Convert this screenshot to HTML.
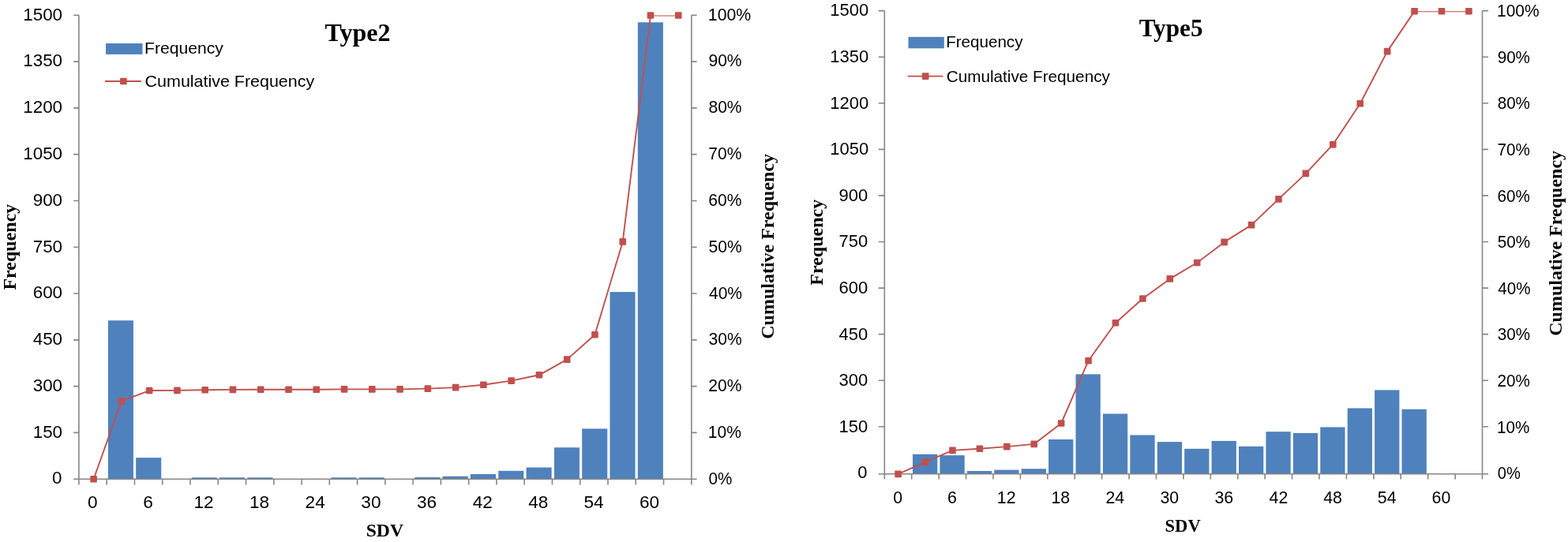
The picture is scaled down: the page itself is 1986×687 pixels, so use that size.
<!DOCTYPE html>
<html><head><meta charset="utf-8"><title>Type2 / Type5 SDV histograms</title>
<style>html,body{margin:0;padding:0;background:#fff;}body{width:1986px;height:687px;overflow:hidden;}svg{display:block;}</style>
</head><body>
<svg width="1986" height="687" viewBox="0 0 1986 687">
<rect width="1986" height="687" fill="#fff"/>
<clipPath id="clipL"><rect x="99.9" y="19.5" width="775.9" height="597.7"/></clipPath>
<rect x="136.87" y="406.22" width="32.06" height="200.98" fill="#4F81BD"/>
<rect x="172.18" y="580.16" width="32.06" height="27.04" fill="#4F81BD"/>
<rect x="242.81" y="605.24" width="32.06" height="1.96" fill="#4F81BD"/>
<rect x="278.12" y="605.24" width="32.06" height="1.96" fill="#4F81BD"/>
<rect x="313.43" y="605.24" width="32.06" height="1.96" fill="#4F81BD"/>
<rect x="419.37" y="605.24" width="32.06" height="1.96" fill="#4F81BD"/>
<rect x="454.69" y="605.24" width="32.06" height="1.96" fill="#4F81BD"/>
<rect x="525.31" y="604.89" width="32.06" height="2.31" fill="#4F81BD"/>
<rect x="560.63" y="603.71" width="32.06" height="3.49" fill="#4F81BD"/>
<rect x="595.94" y="601.01" width="32.06" height="6.19" fill="#4F81BD"/>
<rect x="631.25" y="596.81" width="32.06" height="10.39" fill="#4F81BD"/>
<rect x="666.56" y="592.5" width="32.06" height="14.7" fill="#4F81BD"/>
<rect x="701.88" y="567.22" width="32.06" height="39.98" fill="#4F81BD"/>
<rect x="737.19" y="543.39" width="32.06" height="63.81" fill="#4F81BD"/>
<rect x="772.5" y="370.08" width="32.06" height="237.12" fill="#4F81BD"/>
<rect x="807.82" y="28.31" width="32.06" height="578.89" fill="#4F81BD"/>
<path d="M99.9 19.3V614.5M93.1 19.3H99.9M93.1 78.09H99.9M93.1 136.88H99.9M93.1 195.67H99.9M93.1 254.46H99.9M93.1 313.25H99.9M93.1 372.04H99.9M93.1 430.83H99.9M93.1 489.62H99.9M93.1 548.41H99.9M93.1 607.2H99.9M875.8 19.3V614.5M875.8 19.3H882.6M875.8 78.09H882.6M875.8 136.88H882.6M875.8 195.67H882.6M875.8 254.46H882.6M875.8 313.25H882.6M875.8 372.04H882.6M875.8 430.83H882.6M875.8 489.62H882.6M875.8 548.41H882.6M875.8 607.2H882.6M93.1 607.2H882.6M135.17 607.2V614.5M170.44 607.2V614.5M205.7 607.2V614.5M240.97 607.2V614.5M276.24 607.2V614.5M311.51 607.2V614.5M346.78 607.2V614.5M382.05 607.2V614.5M417.31 607.2V614.5M452.58 607.2V614.5M487.85 607.2V614.5M523.12 607.2V614.5M558.39 607.2V614.5M593.65 607.2V614.5M628.92 607.2V614.5M664.19 607.2V614.5M699.46 607.2V614.5M734.73 607.2V614.5M770 607.2V614.5M805.26 607.2V614.5M840.53 607.2V614.5" stroke="#868686" stroke-width="1.6" fill="none"/>
<polyline clip-path="url(#clipL)" points="118.6,607.3 153.87,508.35 189.14,495.05 224.41,494.9 259.68,494.2 294.95,493.9 330.22,493.7 365.49,493.7 400.76,493.7 436.03,493.4 471.3,493.4 506.57,493.4 541.84,492.6 577.11,491.1 612.38,487.8 647.65,482.6 682.92,475.3 718.19,455.6 753.46,424.3 788.73,306.4 824,19.5 859.27,19.5" fill="none" stroke="#C0504D" stroke-width="1.9" stroke-linejoin="round"/>
<rect x="114.3" y="603" width="8.6" height="8.6" rx="1" fill="#C0504D"/>
<rect x="149.57" y="504.05" width="8.6" height="8.6" rx="1" fill="#C0504D"/>
<rect x="184.84" y="490.75" width="8.6" height="8.6" rx="1" fill="#C0504D"/>
<rect x="220.11" y="490.6" width="8.6" height="8.6" rx="1" fill="#C0504D"/>
<rect x="255.38" y="489.9" width="8.6" height="8.6" rx="1" fill="#C0504D"/>
<rect x="290.65" y="489.6" width="8.6" height="8.6" rx="1" fill="#C0504D"/>
<rect x="325.92" y="489.4" width="8.6" height="8.6" rx="1" fill="#C0504D"/>
<rect x="361.19" y="489.4" width="8.6" height="8.6" rx="1" fill="#C0504D"/>
<rect x="396.46" y="489.4" width="8.6" height="8.6" rx="1" fill="#C0504D"/>
<rect x="431.73" y="489.1" width="8.6" height="8.6" rx="1" fill="#C0504D"/>
<rect x="467" y="489.1" width="8.6" height="8.6" rx="1" fill="#C0504D"/>
<rect x="502.27" y="489.1" width="8.6" height="8.6" rx="1" fill="#C0504D"/>
<rect x="537.54" y="488.3" width="8.6" height="8.6" rx="1" fill="#C0504D"/>
<rect x="572.81" y="486.8" width="8.6" height="8.6" rx="1" fill="#C0504D"/>
<rect x="608.08" y="483.5" width="8.6" height="8.6" rx="1" fill="#C0504D"/>
<rect x="643.35" y="478.3" width="8.6" height="8.6" rx="1" fill="#C0504D"/>
<rect x="678.62" y="471" width="8.6" height="8.6" rx="1" fill="#C0504D"/>
<rect x="713.89" y="451.3" width="8.6" height="8.6" rx="1" fill="#C0504D"/>
<rect x="749.16" y="420" width="8.6" height="8.6" rx="1" fill="#C0504D"/>
<rect x="784.43" y="302.1" width="8.6" height="8.6" rx="1" fill="#C0504D"/>
<rect x="819.7" y="15.2" width="8.6" height="8.6" rx="1" fill="#C0504D"/>
<rect x="854.97" y="15.2" width="8.6" height="8.6" rx="1" fill="#C0504D"/>
<text x="29.33" y="25.7" font-size="21.5" textLength="49.74" lengthAdjust="spacingAndGlyphs" font-family='"Liberation Sans", Arial, sans-serif'>1500</text>
<text x="29.33" y="84.47" font-size="21.5" textLength="49.74" lengthAdjust="spacingAndGlyphs" font-family='"Liberation Sans", Arial, sans-serif'>1350</text>
<text x="29.33" y="143.24" font-size="21.5" textLength="49.74" lengthAdjust="spacingAndGlyphs" font-family='"Liberation Sans", Arial, sans-serif'>1200</text>
<text x="29.33" y="202.01" font-size="21.5" textLength="49.74" lengthAdjust="spacingAndGlyphs" font-family='"Liberation Sans", Arial, sans-serif'>1050</text>
<text x="41.75" y="260.78" font-size="21.5" textLength="37.31" lengthAdjust="spacingAndGlyphs" font-family='"Liberation Sans", Arial, sans-serif'>900</text>
<text x="41.75" y="319.55" font-size="21.5" textLength="37.31" lengthAdjust="spacingAndGlyphs" font-family='"Liberation Sans", Arial, sans-serif'>750</text>
<text x="41.75" y="378.32" font-size="21.5" textLength="37.31" lengthAdjust="spacingAndGlyphs" font-family='"Liberation Sans", Arial, sans-serif'>600</text>
<text x="41.75" y="437.09" font-size="21.5" textLength="37.31" lengthAdjust="spacingAndGlyphs" font-family='"Liberation Sans", Arial, sans-serif'>450</text>
<text x="41.75" y="495.86" font-size="21.5" textLength="37.31" lengthAdjust="spacingAndGlyphs" font-family='"Liberation Sans", Arial, sans-serif'>300</text>
<text x="41.75" y="554.63" font-size="21.5" textLength="37.31" lengthAdjust="spacingAndGlyphs" font-family='"Liberation Sans", Arial, sans-serif'>150</text>
<text x="66.07" y="613.4" font-size="21.5" textLength="12.44" lengthAdjust="spacingAndGlyphs" font-family='"Liberation Sans", Arial, sans-serif'>0</text>
<text x="896.8" y="25.65" font-size="21.5" textLength="54.44" lengthAdjust="spacingAndGlyphs" font-family='"Liberation Sans", Arial, sans-serif'>100%</text>
<text x="897.45" y="84.48" font-size="21.5" textLength="42.13" lengthAdjust="spacingAndGlyphs" font-family='"Liberation Sans", Arial, sans-serif'>90%</text>
<text x="897.45" y="143.31" font-size="21.5" textLength="42.13" lengthAdjust="spacingAndGlyphs" font-family='"Liberation Sans", Arial, sans-serif'>80%</text>
<text x="897.35" y="202.14" font-size="21.5" textLength="42.13" lengthAdjust="spacingAndGlyphs" font-family='"Liberation Sans", Arial, sans-serif'>70%</text>
<text x="897.35" y="260.97" font-size="21.5" textLength="42.13" lengthAdjust="spacingAndGlyphs" font-family='"Liberation Sans", Arial, sans-serif'>60%</text>
<text x="897.56" y="319.8" font-size="21.5" textLength="42.13" lengthAdjust="spacingAndGlyphs" font-family='"Liberation Sans", Arial, sans-serif'>50%</text>
<text x="897.98" y="378.63" font-size="21.5" textLength="42.13" lengthAdjust="spacingAndGlyphs" font-family='"Liberation Sans", Arial, sans-serif'>40%</text>
<text x="897.56" y="437.46" font-size="21.5" textLength="42.13" lengthAdjust="spacingAndGlyphs" font-family='"Liberation Sans", Arial, sans-serif'>30%</text>
<text x="897.35" y="496.29" font-size="21.5" textLength="42.13" lengthAdjust="spacingAndGlyphs" font-family='"Liberation Sans", Arial, sans-serif'>20%</text>
<text x="896.82" y="555.12" font-size="21.5" textLength="42.13" lengthAdjust="spacingAndGlyphs" font-family='"Liberation Sans", Arial, sans-serif'>10%</text>
<text x="897.58" y="613.95" font-size="21.5" textLength="29.77" lengthAdjust="spacingAndGlyphs" font-family='"Liberation Sans", Arial, sans-serif'>0%</text>
<text x="110.91" y="644" font-size="21.5" textLength="12.56" lengthAdjust="spacingAndGlyphs" font-family='"Liberation Sans", Arial, sans-serif'>0</text>
<text x="181.39" y="644" font-size="21.5" textLength="12.56" lengthAdjust="spacingAndGlyphs" font-family='"Liberation Sans", Arial, sans-serif'>6</text>
<text x="245.5" y="644" font-size="21.5" textLength="25.11" lengthAdjust="spacingAndGlyphs" font-family='"Liberation Sans", Arial, sans-serif'>12</text>
<text x="315.92" y="644" font-size="21.5" textLength="25.11" lengthAdjust="spacingAndGlyphs" font-family='"Liberation Sans", Arial, sans-serif'>18</text>
<text x="386.62" y="644" font-size="21.5" textLength="25.11" lengthAdjust="spacingAndGlyphs" font-family='"Liberation Sans", Arial, sans-serif'>24</text>
<text x="457.33" y="644" font-size="21.5" textLength="25.11" lengthAdjust="spacingAndGlyphs" font-family='"Liberation Sans", Arial, sans-serif'>30</text>
<text x="527.92" y="644" font-size="21.5" textLength="25.11" lengthAdjust="spacingAndGlyphs" font-family='"Liberation Sans", Arial, sans-serif'>36</text>
<text x="598.8" y="644" font-size="21.5" textLength="25.11" lengthAdjust="spacingAndGlyphs" font-family='"Liberation Sans", Arial, sans-serif'>42</text>
<text x="669.22" y="644" font-size="21.5" textLength="25.11" lengthAdjust="spacingAndGlyphs" font-family='"Liberation Sans", Arial, sans-serif'>48</text>
<text x="739.42" y="644" font-size="21.5" textLength="25.11" lengthAdjust="spacingAndGlyphs" font-family='"Liberation Sans", Arial, sans-serif'>54</text>
<text x="809.9" y="644" font-size="21.5" textLength="25.11" lengthAdjust="spacingAndGlyphs" font-family='"Liberation Sans", Arial, sans-serif'>60</text>
<text x="411.42" y="51.9" font-size="32" textLength="82.97" lengthAdjust="spacingAndGlyphs" font-weight="bold" font-family='"Liberation Serif", "Times New Roman", serif'>Type2</text>
<text x="463.7" y="679.8" font-size="24" textLength="47.29" lengthAdjust="spacingAndGlyphs" font-weight="bold" font-family='"Liberation Serif", "Times New Roman", serif'>SDV</text>
<text transform="translate(19.8 367.2) rotate(-90)" x="-0.36" y="0" font-size="24" textLength="108.88" lengthAdjust="spacingAndGlyphs" font-weight="bold" font-family='"Liberation Serif", "Times New Roman", serif'>Frequency</text>
<text transform="translate(980 428.6) rotate(-90)" x="-1.2" y="0" font-size="24" textLength="234.88" lengthAdjust="spacingAndGlyphs" font-weight="bold" font-family='"Liberation Serif", "Times New Roman", serif'>Cumulative Frequency</text>
<rect x="134" y="55" width="46.5" height="13.9" fill="#4F81BD"/>
<path d="M132.9 103H178.8" stroke="#C0504D" stroke-width="1.9"/>
<rect x="152.1" y="98.7" width="8.6" height="8.6" rx="1" fill="#C0504D"/>
<text x="183.01" y="67.9" font-size="20.7" textLength="99.76" lengthAdjust="spacingAndGlyphs" font-family='"Liberation Sans", Arial, sans-serif'>Frequency</text>
<text x="183.63" y="109.6" font-size="20.7" textLength="214.55" lengthAdjust="spacingAndGlyphs" font-family='"Liberation Sans", Arial, sans-serif'>Cumulative Frequency</text>
<clipPath id="clipR"><rect x="1120.3" y="14.2" width="757.2" height="596.6"/></clipPath>
<rect x="1155.98" y="575.75" width="31.29" height="25.05" fill="#4F81BD"/>
<rect x="1190.4" y="577.12" width="31.29" height="23.68" fill="#4F81BD"/>
<rect x="1224.82" y="597" width="31.29" height="3.8" fill="#4F81BD"/>
<rect x="1259.24" y="595.59" width="31.29" height="5.21" fill="#4F81BD"/>
<rect x="1293.66" y="594.22" width="31.29" height="6.58" fill="#4F81BD"/>
<rect x="1328.07" y="556.96" width="31.29" height="43.84" fill="#4F81BD"/>
<rect x="1362.49" y="474.36" width="31.29" height="126.44" fill="#4F81BD"/>
<rect x="1396.91" y="524.46" width="31.29" height="76.34" fill="#4F81BD"/>
<rect x="1431.33" y="551.48" width="31.29" height="49.32" fill="#4F81BD"/>
<rect x="1465.75" y="560.09" width="31.29" height="40.71" fill="#4F81BD"/>
<rect x="1500.16" y="568.82" width="31.29" height="31.98" fill="#4F81BD"/>
<rect x="1534.58" y="558.91" width="31.29" height="41.89" fill="#4F81BD"/>
<rect x="1569" y="565.8" width="31.29" height="35" fill="#4F81BD"/>
<rect x="1603.42" y="547.17" width="31.29" height="53.63" fill="#4F81BD"/>
<rect x="1637.84" y="548.89" width="31.29" height="51.91" fill="#4F81BD"/>
<rect x="1672.26" y="541.41" width="31.29" height="59.39" fill="#4F81BD"/>
<rect x="1706.67" y="517.42" width="31.29" height="83.38" fill="#4F81BD"/>
<rect x="1741.09" y="494.4" width="31.29" height="106.4" fill="#4F81BD"/>
<rect x="1775.51" y="518.71" width="31.29" height="82.09" fill="#4F81BD"/>
<path d="M1120.3 13.6V607.5M1112.7 13.6H1120.3M1112.7 72.18H1120.3M1112.7 130.76H1120.3M1112.7 189.34H1120.3M1112.7 247.92H1120.3M1112.7 306.5H1120.3M1112.7 365.08H1120.3M1112.7 423.66H1120.3M1112.7 482.24H1120.3M1112.7 540.82H1120.3M1112.7 600.8H1120.3M1877.5 13.6V607.5M1877.5 13.6H1885.1M1877.5 72.18H1885.1M1877.5 130.76H1885.1M1877.5 189.34H1885.1M1877.5 247.92H1885.1M1877.5 306.5H1885.1M1877.5 365.08H1885.1M1877.5 423.66H1885.1M1877.5 482.24H1885.1M1877.5 540.82H1885.1M1877.5 600.8H1885.1M1112.7 600.8H1885.1M1154.72 600.8V607.5M1189.14 600.8V607.5M1223.55 600.8V607.5M1257.97 600.8V607.5M1292.39 600.8V607.5M1326.81 600.8V607.5M1361.23 600.8V607.5M1395.65 600.8V607.5M1430.06 600.8V607.5M1464.48 600.8V607.5M1498.9 600.8V607.5M1533.32 600.8V607.5M1567.74 600.8V607.5M1602.15 600.8V607.5M1636.57 600.8V607.5M1670.99 600.8V607.5M1705.41 600.8V607.5M1739.83 600.8V607.5M1774.25 600.8V607.5M1808.66 600.8V607.5M1843.08 600.8V607.5" stroke="#868686" stroke-width="1.6" fill="none"/>
<polyline clip-path="url(#clipR)" points="1137.61,600.9 1172.03,585.7 1206.45,570.9 1240.86,568.8 1275.28,566.1 1309.7,562.9 1344.12,536.5 1378.54,457.2 1412.95,409.3 1447.37,378.5 1481.79,353.4 1516.21,333 1550.63,306.9 1585.05,285.1 1619.46,252.4 1653.88,219.9 1688.3,183.2 1722.72,131.3 1757.14,65.1 1791.55,14.2 1825.97,14.2 1860.39,14.2" fill="none" stroke="#C0504D" stroke-width="1.9" stroke-linejoin="round"/>
<rect x="1133.31" y="596.6" width="8.6" height="8.6" rx="1" fill="#C0504D"/>
<rect x="1167.73" y="581.4" width="8.6" height="8.6" rx="1" fill="#C0504D"/>
<rect x="1202.15" y="566.6" width="8.6" height="8.6" rx="1" fill="#C0504D"/>
<rect x="1236.56" y="564.5" width="8.6" height="8.6" rx="1" fill="#C0504D"/>
<rect x="1270.98" y="561.8" width="8.6" height="8.6" rx="1" fill="#C0504D"/>
<rect x="1305.4" y="558.6" width="8.6" height="8.6" rx="1" fill="#C0504D"/>
<rect x="1339.82" y="532.2" width="8.6" height="8.6" rx="1" fill="#C0504D"/>
<rect x="1374.24" y="452.9" width="8.6" height="8.6" rx="1" fill="#C0504D"/>
<rect x="1408.65" y="405" width="8.6" height="8.6" rx="1" fill="#C0504D"/>
<rect x="1443.07" y="374.2" width="8.6" height="8.6" rx="1" fill="#C0504D"/>
<rect x="1477.49" y="349.1" width="8.6" height="8.6" rx="1" fill="#C0504D"/>
<rect x="1511.91" y="328.7" width="8.6" height="8.6" rx="1" fill="#C0504D"/>
<rect x="1546.33" y="302.6" width="8.6" height="8.6" rx="1" fill="#C0504D"/>
<rect x="1580.75" y="280.8" width="8.6" height="8.6" rx="1" fill="#C0504D"/>
<rect x="1615.16" y="248.1" width="8.6" height="8.6" rx="1" fill="#C0504D"/>
<rect x="1649.58" y="215.6" width="8.6" height="8.6" rx="1" fill="#C0504D"/>
<rect x="1684" y="178.9" width="8.6" height="8.6" rx="1" fill="#C0504D"/>
<rect x="1718.42" y="127" width="8.6" height="8.6" rx="1" fill="#C0504D"/>
<rect x="1752.84" y="60.8" width="8.6" height="8.6" rx="1" fill="#C0504D"/>
<rect x="1787.25" y="9.9" width="8.6" height="8.6" rx="1" fill="#C0504D"/>
<rect x="1821.67" y="9.9" width="8.6" height="8.6" rx="1" fill="#C0504D"/>
<rect x="1856.09" y="9.9" width="8.6" height="8.6" rx="1" fill="#C0504D"/>
<text x="1051.27" y="20.4" font-size="22.2" textLength="48.89" lengthAdjust="spacingAndGlyphs" font-family='"Liberation Sans", Arial, sans-serif'>1500</text>
<text x="1051.27" y="78.99" font-size="22.2" textLength="48.89" lengthAdjust="spacingAndGlyphs" font-family='"Liberation Sans", Arial, sans-serif'>1350</text>
<text x="1051.27" y="137.58" font-size="22.2" textLength="48.89" lengthAdjust="spacingAndGlyphs" font-family='"Liberation Sans", Arial, sans-serif'>1200</text>
<text x="1051.27" y="196.17" font-size="22.2" textLength="48.89" lengthAdjust="spacingAndGlyphs" font-family='"Liberation Sans", Arial, sans-serif'>1050</text>
<text x="1062.58" y="254.76" font-size="22.2" textLength="36.67" lengthAdjust="spacingAndGlyphs" font-family='"Liberation Sans", Arial, sans-serif'>900</text>
<text x="1062.58" y="313.35" font-size="22.2" textLength="36.67" lengthAdjust="spacingAndGlyphs" font-family='"Liberation Sans", Arial, sans-serif'>750</text>
<text x="1062.58" y="371.94" font-size="22.2" textLength="36.67" lengthAdjust="spacingAndGlyphs" font-family='"Liberation Sans", Arial, sans-serif'>600</text>
<text x="1062.58" y="430.53" font-size="22.2" textLength="36.67" lengthAdjust="spacingAndGlyphs" font-family='"Liberation Sans", Arial, sans-serif'>450</text>
<text x="1062.58" y="489.12" font-size="22.2" textLength="36.67" lengthAdjust="spacingAndGlyphs" font-family='"Liberation Sans", Arial, sans-serif'>300</text>
<text x="1062.58" y="547.71" font-size="22.2" textLength="36.67" lengthAdjust="spacingAndGlyphs" font-family='"Liberation Sans", Arial, sans-serif'>150</text>
<text x="1086.27" y="606.3" font-size="22.2" textLength="12.22" lengthAdjust="spacingAndGlyphs" font-family='"Liberation Sans", Arial, sans-serif'>0</text>
<text x="1896.03" y="20.9" font-size="22.2" textLength="53.54" lengthAdjust="spacingAndGlyphs" font-family='"Liberation Sans", Arial, sans-serif'>100%</text>
<text x="1896.67" y="79.55" font-size="22.2" textLength="41.32" lengthAdjust="spacingAndGlyphs" font-family='"Liberation Sans", Arial, sans-serif'>90%</text>
<text x="1896.67" y="138.2" font-size="22.2" textLength="41.32" lengthAdjust="spacingAndGlyphs" font-family='"Liberation Sans", Arial, sans-serif'>80%</text>
<text x="1896.57" y="196.85" font-size="22.2" textLength="41.32" lengthAdjust="spacingAndGlyphs" font-family='"Liberation Sans", Arial, sans-serif'>70%</text>
<text x="1896.57" y="255.5" font-size="22.2" textLength="41.32" lengthAdjust="spacingAndGlyphs" font-family='"Liberation Sans", Arial, sans-serif'>60%</text>
<text x="1896.77" y="314.15" font-size="22.2" textLength="41.32" lengthAdjust="spacingAndGlyphs" font-family='"Liberation Sans", Arial, sans-serif'>50%</text>
<text x="1897.19" y="372.8" font-size="22.2" textLength="41.32" lengthAdjust="spacingAndGlyphs" font-family='"Liberation Sans", Arial, sans-serif'>40%</text>
<text x="1896.77" y="431.45" font-size="22.2" textLength="41.32" lengthAdjust="spacingAndGlyphs" font-family='"Liberation Sans", Arial, sans-serif'>30%</text>
<text x="1896.57" y="490.1" font-size="22.2" textLength="41.32" lengthAdjust="spacingAndGlyphs" font-family='"Liberation Sans", Arial, sans-serif'>20%</text>
<text x="1896.05" y="548.75" font-size="22.2" textLength="41.32" lengthAdjust="spacingAndGlyphs" font-family='"Liberation Sans", Arial, sans-serif'>10%</text>
<text x="1896.8" y="607.4" font-size="22.2" textLength="29.04" lengthAdjust="spacingAndGlyphs" font-family='"Liberation Sans", Arial, sans-serif'>0%</text>
<text x="1131.24" y="637.8" font-size="22.2" textLength="11.85" lengthAdjust="spacingAndGlyphs" font-family='"Liberation Sans", Arial, sans-serif'>0</text>
<text x="1200.02" y="637.8" font-size="22.2" textLength="11.85" lengthAdjust="spacingAndGlyphs" font-family='"Liberation Sans", Arial, sans-serif'>6</text>
<text x="1262.79" y="637.8" font-size="22.2" textLength="23.71" lengthAdjust="spacingAndGlyphs" font-family='"Liberation Sans", Arial, sans-serif'>12</text>
<text x="1331.52" y="637.8" font-size="22.2" textLength="23.71" lengthAdjust="spacingAndGlyphs" font-family='"Liberation Sans", Arial, sans-serif'>18</text>
<text x="1400.51" y="637.8" font-size="22.2" textLength="23.71" lengthAdjust="spacingAndGlyphs" font-family='"Liberation Sans", Arial, sans-serif'>24</text>
<text x="1469.51" y="637.8" font-size="22.2" textLength="23.71" lengthAdjust="spacingAndGlyphs" font-family='"Liberation Sans", Arial, sans-serif'>30</text>
<text x="1538.4" y="637.8" font-size="22.2" textLength="23.71" lengthAdjust="spacingAndGlyphs" font-family='"Liberation Sans", Arial, sans-serif'>36</text>
<text x="1607.56" y="637.8" font-size="22.2" textLength="23.71" lengthAdjust="spacingAndGlyphs" font-family='"Liberation Sans", Arial, sans-serif'>42</text>
<text x="1676.28" y="637.8" font-size="22.2" textLength="23.71" lengthAdjust="spacingAndGlyphs" font-family='"Liberation Sans", Arial, sans-serif'>48</text>
<text x="1744.8" y="637.8" font-size="22.2" textLength="23.71" lengthAdjust="spacingAndGlyphs" font-family='"Liberation Sans", Arial, sans-serif'>54</text>
<text x="1813.58" y="637.8" font-size="22.2" textLength="23.71" lengthAdjust="spacingAndGlyphs" font-family='"Liberation Sans", Arial, sans-serif'>60</text>
<text x="1442.63" y="46.2" font-size="32" textLength="80.9" lengthAdjust="spacingAndGlyphs" font-weight="bold" font-family='"Liberation Serif", "Times New Roman", serif'>Type5</text>
<text x="1475.56" y="674" font-size="24" textLength="45.13" lengthAdjust="spacingAndGlyphs" font-weight="bold" font-family='"Liberation Serif", "Times New Roman", serif'>SDV</text>
<text transform="translate(1042.4 361.3) rotate(-90)" x="-0.36" y="0" font-size="24" textLength="108.88" lengthAdjust="spacingAndGlyphs" font-weight="bold" font-family='"Liberation Serif", "Times New Roman", serif'>Frequency</text>
<text transform="translate(1978 424.6) rotate(-90)" x="-1.2" y="0" font-size="24" textLength="234.88" lengthAdjust="spacingAndGlyphs" font-weight="bold" font-family='"Liberation Serif", "Times New Roman", serif'>Cumulative Frequency</text>
<rect x="1150.5" y="46.8" width="45.3" height="14.5" fill="#4F81BD"/>
<path d="M1149.7 96.6H1194.4" stroke="#C0504D" stroke-width="1.9"/>
<rect x="1167.9" y="92.3" width="8.6" height="8.6" rx="1" fill="#C0504D"/>
<text x="1198.15" y="60.3" font-size="20.7" textLength="97.31" lengthAdjust="spacingAndGlyphs" font-family='"Liberation Sans", Arial, sans-serif'>Frequency</text>
<text x="1198.76" y="103.6" font-size="20.7" textLength="207.1" lengthAdjust="spacingAndGlyphs" font-family='"Liberation Sans", Arial, sans-serif'>Cumulative Frequency</text>
</svg>
</body></html>
